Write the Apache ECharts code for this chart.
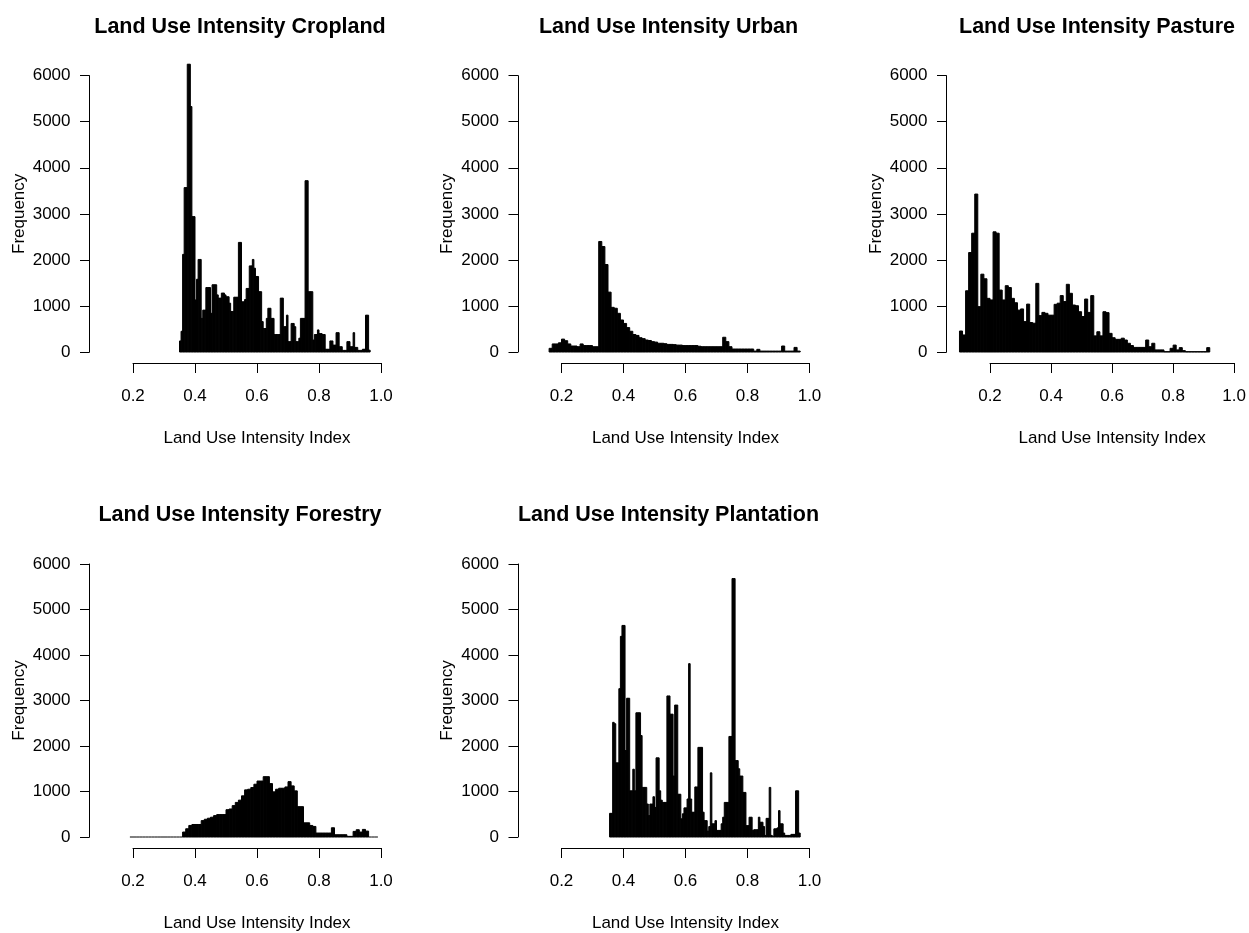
<!DOCTYPE html>
<html>
<head>
<meta charset="utf-8">
<title>Land Use Intensity</title>
<script src="https://cdn.jsdelivr.net/npm/echarts@6/dist/echarts.min.js"></script>
<style>
  html, body { margin: 0; padding: 0; background: #fff; }
  #chart { width: 1249px; height: 933px; }
</style>
</head>
<body>
<div id="chart"></div>
<script>
// Histogram counts per bin; each series starts at its first break and uses a fixed bin width.
const cropStart = 0.35, cropWidth = 0.005;
const cropland = [
  240, 450, 2120, 3570, 3570, 6250, 6250, 5330, 2940, 2940,
  1130, 1580, 2010, 2010, 730, 910, 910, 1400, 1400, 1400,
  840, 1460, 1460, 1460, 1240, 1170, 1170, 1280, 1280, 1240,
  1200, 1200, 1060, 880, 880, 1190, 1190, 1190, 2380, 2380,
  1090, 1090, 1140, 1380, 1380, 1870, 1870, 2010, 1820, 1640,
  1640, 1310, 1310, 660, 510, 510, 730, 950, 950, 730,
  730, 380, 380, 380, 380, 1170, 1170, 550, 550, 800,
  225, 225, 620, 620, 550, 225, 225, 300, 730, 730,
  730, 3720, 3720, 1310, 1310, 1310, 260, 380, 380, 480,
  400, 400, 380, 380, 60, 60, 60, 240, 240, 150,
  150, 420, 420, 115, 115, 35, 35, 35, 225, 225,
  115, 115, 420, 100, 100, 35, 35, 35, 60, 60,
  800, 800, 40
];

const urbanStart = 0.16, urbanWidth = 0.01;
const urban = [
  80, 175, 175, 200, 280, 245, 175, 130, 130, 115,
  175, 140, 140, 140, 115, 115, 2400, 2290, 1900, 1300,
  970, 950, 840, 695, 620, 530, 450, 380, 360, 310,
  290, 260, 250, 225, 215, 190, 190, 180, 165, 165,
  160, 150, 150, 140, 140, 140, 140, 140, 125, 115,
  115, 115, 115, 115, 115, 115, 320, 225, 115, 65,
  65, 65, 65, 65, 65, 65, 20, 58, 20, 20,
  20, 20, 20, 20, 20, 130, 20, 20, 20, 100,
  20
];

const pastureStart = 0.10, pastureWidth = 0.01;
const pasture = [
  456, 370, 1330, 2160, 2580, 3430, 985, 1690, 1590, 1165,
  1130, 2610, 2580, 1345, 1130, 1440, 1400, 1165, 1070, 910,
  935, 660, 1040, 640, 625, 1490, 790, 860, 840, 800,
  800, 1035, 1060, 1225, 1095, 1470, 1275, 1020, 1005, 875,
  770, 1150, 860, 1225, 350, 440, 350, 875, 855, 405,
  310, 275, 275, 300, 260, 190, 140, 100, 100, 100,
  100, 260, 115, 190, 45, 45, 45, 7, 7, 80,
  150, 45, 95, 30, 7, 7, 7, 7, 7, 7,
  7, 95
];

const forestryStart = 0.19, forestryWidth = 0.01;
const forestry = [
  0, 0, 0, 0, 0, 0, 0, 0, 0, 0,
  0, 0, 0, 0, 0, 0, 0,
  109, 181, 254, 275, 275, 275, 360, 390, 413, 435,
  470, 493, 493, 493, 600, 616, 690, 760, 810, 905,
  1036, 1050, 1087, 1160, 1230, 1230, 1326, 1326, 1174, 993,
  1050, 1072, 1072, 1100, 1217, 1123, 1014, 667, 667, 312,
  312, 254, 232, 87, 87, 87, 87, 87, 203, 50,
  50, 50, 50, 14, 14, 123, 160, 109, 167, 130,
  0, 0, 0
];

const plantationStart = 0.355, plantationWidth = 0.005;
const plantation = [
  520, 520, 2520, 2490, 1630, 1630, 3260, 4410, 4650, 4650,
  1900, 3050, 3050, 1015, 1015, 1490, 1015, 2730, 2730, 2730,
  2230, 1090, 1090, 1090, 725, 470, 725, 725, 885, 650,
  1740, 1740, 1015, 810, 760, 760, 760, 3100, 3100, 2700,
  2700, 1340, 2900, 2900, 940, 940, 400, 510, 640, 640,
  835, 3810, 835, 545, 545, 1100, 1100, 1970, 1970, 1970,
  545, 360, 360, 130, 230, 1410, 290, 290, 360, 145,
  145, 145, 290, 435, 760, 760, 760, 2210, 2210, 5680,
  5680, 1680, 1680, 1500, 1340, 1340, 980, 980, 250, 250,
  435, 435, 145, 160, 160, 160, 435, 325, 325, 230,
  35, 410, 410, 1090, 35, 15, 180, 180, 200, 580,
  290, 290, 87, 35, 35, 35, 35, 58, 58, 58,
  1015, 1015, 87
];

const titles = [
  'Land Use Intensity Cropland',
  'Land Use Intensity Urban',
  'Land Use Intensity Pasture',
  'Land Use Intensity Forestry',
  'Land Use Intensity Plantation'
];
const xTicks = [0.2, 0.4, 0.6, 0.8, 1.0];
const yTicks = [0, 1000, 2000, 3000, 4000, 5000, 6000];
const xLabel = 'Land Use Intensity Index';
const yLabel = 'Frequency';

const panels = [
  { title: titles[0], start: cropStart,       width: cropWidth,       counts: cropland,   col: 0, row: 0 },
  { title: titles[1], start: urbanStart,      width: urbanWidth,      counts: urban,      col: 1, row: 0 },
  { title: titles[2], start: pastureStart,    width: pastureWidth,    counts: pasture,    col: 2, row: 0 },
  { title: titles[3], start: forestryStart,   width: forestryWidth,   counts: forestry,   col: 0, row: 1 },
  { title: titles[4], start: plantationStart, width: plantationWidth, counts: plantation, col: 1, row: 1 }
];

// Panel geometry: the grid spans exactly the tick range of both axes
const COL_STEP = 428.5, ROW_STEP = 488.3;
const GRID_LEFT = 133, GRID_TOP = 75.7, GRID_W = 248, GRID_H = 276.3;
const FONT = '"Liberation Sans", Arial, Helvetica, sans-serif';

function binsOf(p) {
  return p.counts.map((c, i) => {
    const x0 = +(p.start + i * p.width).toFixed(4);
    const x1 = +(p.start + (i + 1) * p.width).toFixed(4);
    return [x0, x1, c];
  });
}

function renderBin(params, api) {
  const x0 = api.value(0), x1 = api.value(1), c = api.value(2);
  const top = api.coord([x0, c]);
  const base = api.coord([x1, 0]);
  if (c <= 0) {
    return {
      type: 'line',
      shape: { x1: top[0], y1: base[1], x2: base[0], y2: base[1] },
      style: { stroke: '#000', lineWidth: 1 }
    };
  }
  return {
    type: 'rect',
    shape: { x: top[0], y: top[1], width: base[0] - top[0], height: base[1] - top[1] },
    style: { fill: '#000', stroke: '#000', lineWidth: 1 }
  };
}

const axisText = { color: '#000', fontSize: 17, fontFamily: FONT };

const option = {
  animation: false,
  backgroundColor: '#ffffff',
  textStyle: { fontFamily: FONT },
  title: panels.map(p => ({
    text: p.title,
    left: GRID_LEFT + 107 + p.col * COL_STEP,
    top: 16 + p.row * ROW_STEP,
    padding: 0,
    textAlign: 'center',
    textStyle: { fontSize: 21.5, fontWeight: 'bold', color: '#000', fontFamily: FONT }
  })),
  grid: panels.map(p => ({
    left: GRID_LEFT + p.col * COL_STEP,
    top: GRID_TOP + p.row * ROW_STEP,
    width: GRID_W,
    height: GRID_H,
    containLabel: false
  })),
  xAxis: panels.map((p, i) => ({
    type: 'value',
    gridIndex: i,
    min: xTicks[0],
    max: xTicks[xTicks.length - 1],
    interval: 0.2,
    offset: 11,
    splitLine: { show: false },
    axisLine: { show: true, onZero: false, lineStyle: { color: '#000', width: 1 } },
    axisTick: { show: true, length: 10, lineStyle: { color: '#000', width: 1 } },
    axisLabel: Object.assign({ margin: 25, formatter: v => v.toFixed(1) }, axisText),
    name: xLabel,
    nameLocation: 'middle',
    nameGap: 67,
    nameTextStyle: axisText
  })),
  yAxis: panels.map((p, i) => ({
    type: 'value',
    gridIndex: i,
    min: yTicks[0],
    max: yTicks[yTicks.length - 1],
    interval: 1000,
    offset: 43.5,
    splitLine: { show: false },
    axisLine: { show: true, onZero: false, lineStyle: { color: '#000', width: 1 } },
    axisTick: { show: true, length: 9.5, lineStyle: { color: '#000', width: 1 } },
    axisLabel: Object.assign({ margin: 19, formatter: v => String(v) }, axisText),
    name: yLabel,
    nameLocation: 'middle',
    nameGap: 62,
    nameTextStyle: axisText
  })),
  series: panels.map((p, i) => ({
    type: 'custom',
    name: p.title,
    xAxisIndex: i,
    yAxisIndex: i,
    clip: false,
    renderItem: renderBin,
    encode: { x: [0, 1], y: 2 },
    data: binsOf(p)
  }))
};

const chart = echarts.init(document.getElementById('chart'), null, { renderer: 'canvas' });
chart.setOption(option);
</script>
</body>
</html>
